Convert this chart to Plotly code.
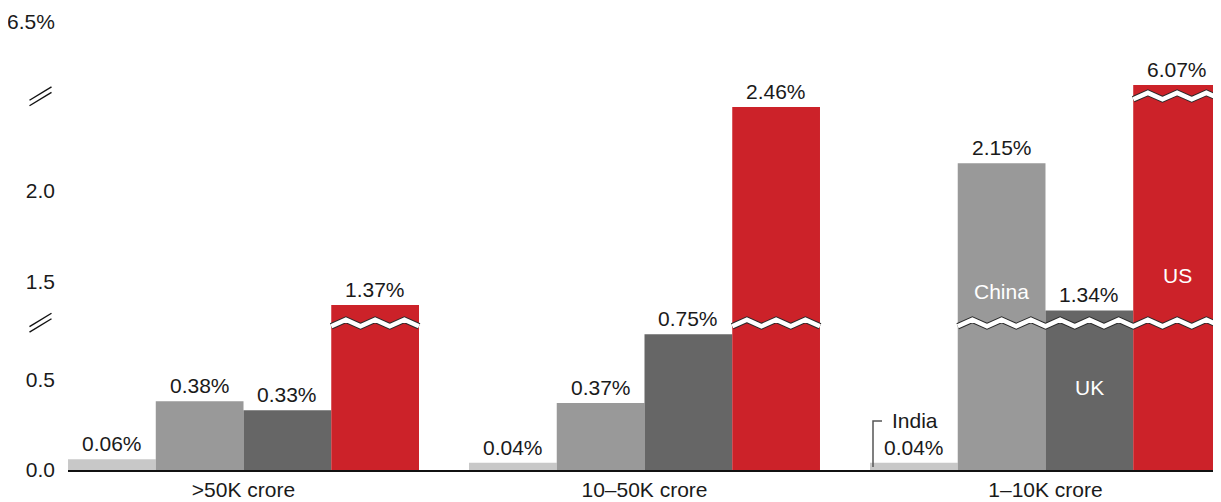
import plotly.graph_objects as go

# ---------------- data ----------------
categories = [">50K crore", "10–50K crore", "1–10K crore"]
series_names = ["India", "China", "UK", "US"]
india = [0.06, 0.04, 0.04]
china = [0.38, 0.37, 2.15]
uk = [0.33, 0.75, 1.34]
us = [1.37, 2.46, 6.07]
series_values = [india, china, uk, us]
series_colors = ["#c8c8c8", "#999999", "#666666", "#cc2229"]

# broken-axis segments (value ranges)
low_range = [0.0, 0.812]
mid_range = [1.271, 2.52]
top_range = [6.0, 6.5]
low_ticks, low_ticktext = [0.0, 0.5], ["0.0", "0.5"]
mid_ticks, mid_ticktext = [1.5, 2.0], ["1.5", "2.0"]
top_tick_label = "6.5%"

# ---------------- geometry helpers ----------------
# page body has an 8px default margin, so the figure is offset by 8px
OFF = 8
W, H = 1221, 502
ML, MR, MT, MB = 68 - OFF, OFF, 18 - OFF, 32 + OFF
plot_w = W - ML - MR
plot_h = H - MT - MB
bargap = 0.1247
n_series = len(series_names)
bar_w = (1 - bargap) / n_series
offsets = [-(1 - bargap) / 2 + bar_w * i for i in range(n_series)]
x_range = [-0.4377, 2.4377]
px_per_x = plot_w / (x_range[1] - x_range[0])

dom_low = [0.0, 0.3252]
dom_mid = [0.3252, 0.8274]
dom_top = [0.8274, 1.0]

FONT = "Arial, Liberation Sans, Helvetica, sans-serif"
TXT = "#1a1a1a"
FS = 21

fig = go.Figure()
xs = list(range(len(categories)))
for ax in ["y", "y2", "y3"]:
    for name, vals, col, off in zip(series_names, series_values, series_colors, offsets):
        fig.add_trace(go.Bar(
            x=xs, y=vals, name=name, width=bar_w, offset=off,
            marker=dict(color=col, line=dict(width=0)),
            xaxis="x", yaxis=ax, showlegend=False, hoverinfo="skip"))

annotations = []
# value labels
for vals, off in zip(series_values, offsets):
    for i, v in enumerate(vals):
        if v <= low_range[1]:
            ax = "y"
        elif v <= mid_range[1]:
            ax = "y2"
        else:
            ax = "y3"
        annotations.append(dict(
            x=i + off + bar_w / 2, y=v, xref="x", yref=ax, text=f"{v:.2f}%",
            showarrow=False, yanchor="bottom", xanchor="center", yshift=2,
            font=dict(size=FS, color=TXT, family=FONT)))

# in-bar series labels (group 3)
g = 2
annotations.append(dict(x=g + offsets[1] + bar_w / 2, y=1.447, xref="x", yref="y2",
                        text="China", showarrow=False, font=dict(size=FS, color="white", family=FONT)))
annotations.append(dict(x=g + offsets[3] + bar_w / 2, y=1.535, xref="x", yref="y2",
                        text="US", showarrow=False, font=dict(size=FS, color="white", family=FONT)))
annotations.append(dict(x=g + offsets[2] + bar_w / 2, y=0.453, xref="x", yref="y",
                        text="UK", showarrow=False, font=dict(size=FS, color="white", family=FONT)))
# India callout
india_left = g + offsets[0]
lead_x = india_left + 3 / px_per_x
annotations.append(dict(x=india_left + 20 / px_per_x, y=0.276, xref="x", yref="y",
                        text="India", showarrow=False, xanchor="left", yanchor="middle",
                        font=dict(size=FS, color=TXT, family=FONT)))


def px2paper(px, py):
    return (px - OFF - ML) / plot_w, (H - MB - (py - OFF)) / plot_h


# top tick label (kept inside the figure as an annotation)
tx, _ = px2paper(57, 0)
annotations.append(dict(x=tx, y=1 + MT / plot_h, xref="paper", yref="paper",
                        text=top_tick_label, showarrow=False, xanchor="right", yanchor="top",
                        font=dict(size=FS, color=TXT, family=FONT)))

shapes = []
shapes.append(dict(type="path", xref="x", yref="y",
                   path=f"M{lead_x},{0.017} L{lead_x},{0.271} L{lead_x + 9 / px_per_x},{0.271}",
                   line=dict(color="#555555", width=1.5)))

# zigzag break bands across bars that cross each break
def zigzag_spans(threshold):
    spans = []
    for i in range(len(categories)):
        for vals, off in zip(series_values, offsets):
            if vals[i] > threshold:
                x0, x1 = i + off, i + off + bar_w
                if spans and abs(spans[-1][1] - x0) < 1e-9:
                    spans[-1][1] = x1
                else:
                    spans.append([x0, x1])
    return spans

amp = 3.2 / plot_h
period = bar_w / 3
for thr, yc in [(low_range[1], dom_low[1]), (mid_range[1], dom_mid[1])]:
    for x0, x1 in zigzag_spans(thr):
        n_half = int(round((x1 - x0) / (period / 2)))
        pts = []
        for k in range(n_half + 1):
            xx = x0 + k * (x1 - x0) / n_half
            yy = yc - amp if k % 2 == 0 else yc + amp
            pts.append(f"{xx},{yy}")
        path = "M" + " L".join(pts)
        shapes.append(dict(type="path", xref="x", yref="paper", path=path, layer="above",
                           line=dict(color="#2a2a2a", width=6.5)))
        shapes.append(dict(type="path", xref="x", yref="paper", path=path, layer="above",
                           line=dict(color="white", width=4.5)))

# axis break marks "//"
for yc_px in [322.7, 96.3]:
    for d in (-2.75, 2.75):
        cy = yc_px + d
        x0p, y0p = px2paper(29.5, cy + 6.7)
        x1p, y1p = px2paper(51.5, cy - 6.7)
        shapes.append(dict(type="line", xref="paper", yref="paper",
                           x0=x0p, y0=y0p, x1=x1p, y1=y1p,
                           line=dict(color="#111111", width=1.4)))

yaxis_common = dict(showgrid=False, zeroline=False, showline=False, ticks="",
                    ticklabelstandoff=12, anchor="x", automargin=False,
                    tickfont=dict(size=FS, color=TXT, family=FONT))

fig.update_layout(
    width=W, height=H,
    margin=dict(l=ML, r=MR, t=MT, b=MB, pad=0, autoexpand=False),
    paper_bgcolor="white", plot_bgcolor="white",
    barmode="overlay", showlegend=False,
    font=dict(family=FONT, size=FS, color=TXT),
    xaxis=dict(range=x_range, tickvals=xs, ticktext=categories, showgrid=False,
               zeroline=False, showline=True, linecolor="#111111", linewidth=2,
               ticks="", anchor="y", automargin=False,
               tickfont=dict(size=FS, color=TXT, family=FONT)),
    yaxis=dict(domain=dom_low, range=low_range, tickvals=low_ticks, ticktext=low_ticktext,
               **yaxis_common),
    yaxis2=dict(domain=dom_mid, range=mid_range, tickvals=mid_ticks, ticktext=mid_ticktext,
                **yaxis_common),
    yaxis3=dict(domain=dom_top, range=top_range, showticklabels=False, **yaxis_common),
    annotations=annotations, shapes=shapes,
)

fig.write_html("out.html")
